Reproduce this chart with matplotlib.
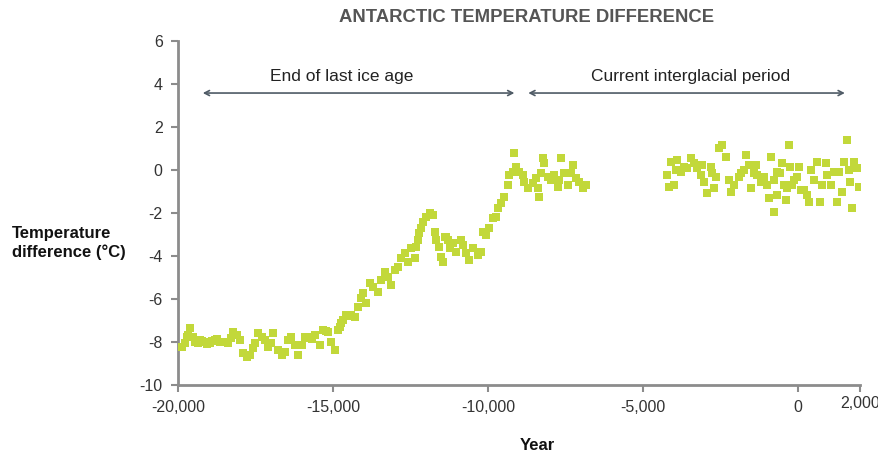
import matplotlib
matplotlib.use("Agg")
import matplotlib.pyplot as plt

plt.rcParams['font.family'] = ['Liberation Sans', 'DejaVu Sans']
plt.rcParams['axes.unicode_minus'] = False

# --- data (year, temperature difference in °C) ---
years = [
    -19880, -19775, -19720, -19670, -19615, -19510, -19450, -19370, -19290, -19210, -19130, -19050,
    -18970, -18890, -18810, -18730, -18650, -18570, -18490, -18380, -18300, -18220, -18110, -18000,
    -17900, -17790, -17680, -17575, -17520, -17415, -17300, -17200, -17090, -16990, -16930, -16770,
    -16660, -16555, -16450, -16340, -16230, -16125, -16015, -15910, -15830, -15750, -15670, -15590,
    -15430, -15320, -15240, -15160, -15050, -14945, -14840, -14785, -14730, -14680, -14570, -14480,
    -14410, -14300, -14195, -14085, -14030, -13925, -13820, -13710, -13550, -13440, -13335, -13230,
    -13120, -13015, -12905, -12800, -12690, -12585, -12475, -12370, -12315, -12260, -12210, -12155,
    -12100, -11990, -11885, -11780, -11725, -11670, -11565, -11510, -11460, -11400, -11350, -11295,
    -11240, -11135, -11025, -10865, -10810, -10705, -10600, -10490, -10330, -10220, -10170, -10060,
    -9955, -9845, -9740, -9685, -9575, -9470, -9365, -9310, -9205, -9150, -9095, -8990,
    -8880, -8825, -8720, -8560, -8450, -8395, -8340, -8285, -8230, -8180, -8070, -7965,
    -7860, -7750, -7700, -7645, -7540, -7430, -7320, -7270, -7160, -7055, -6945, -6840,
    -4210, -4150, -4100, -3995, -3940, -3890, -3780, -3675, -3565, -3460, -3350, -3245,
    -3140, -3085, -3030, -2925, -2815, -2765, -2710, -2655, -2550, -2440, -2335, -2225,
    -2175, -2065, -1905, -1850, -1745, -1690, -1585, -1530, -1420, -1365, -1315, -1205,
    -1100, -990, -940, -865, -780, -780, -670, -670, -565, -510, -455, -400,
    -350, -295, -260, -185, -130, -25, 30, 85, 190, 300, 350, 405,
    510, 620, 725, 780, 890, 940, 1050, 1155, 1260, 1315, 1420, 1475,
    1585, 1640, 1690, 1745, 1800, 1905, 1960,
]
temps = [
    -8.22, -8.06, -7.75, -7.67, -7.36, -7.75, -7.98, -8.05, -7.90, -7.95, -7.98, -8.08,
    -8.06, -7.95, -7.90, -7.85, -7.98, -8.00, -7.98, -8.06, -7.80, -7.52, -7.67, -7.90,
    -8.53, -8.68, -8.60, -8.30, -8.06, -7.60, -7.75, -7.90, -8.22, -8.05, -7.60, -8.37,
    -8.60, -8.45, -7.90, -7.75, -8.14, -8.60, -8.14, -7.75, -7.80, -7.75, -7.85, -7.67,
    -8.14, -7.44, -7.50, -7.52, -7.98, -8.37, -7.44, -7.29, -7.13, -6.98, -6.74, -6.80,
    -6.74, -6.82, -6.36, -5.97, -5.74, -6.20, -5.27, -5.43, -5.66, -5.12, -4.73, -4.96,
    -5.35, -4.65, -4.50, -4.11, -3.88, -4.26, -3.64, -4.11, -3.57, -3.26, -2.95, -2.71,
    -2.40, -2.17, -2.02, -2.09, -2.87, -3.26, -3.57, -4.03, -4.26, -3.10, -3.10, -3.26,
    -3.64, -3.41, -3.80, -3.26, -3.49, -3.88, -4.19, -3.64, -3.95, -3.80, -2.87, -3.02,
    -2.71, -2.25, -2.17, -1.78, -1.55, -1.24, -0.70, -0.23, -0.08, 0.80, 0.15, -0.08,
    -0.23, -0.54, -0.85, -0.62, -0.39, -0.85, -1.24, -0.16, 0.54, 0.31, -0.31, -0.47,
    -0.23, -0.78, -0.47, 0.54, -0.16, -0.70, -0.16, 0.23, -0.39, -0.54, -0.85, -0.70,
    -0.23, -0.80, 0.39, -0.70, 0.00, 0.47, -0.08, 0.16, 0.08, 0.54, 0.31, 0.08,
    -0.23, 0.23, -0.54, -1.08, 0.16, -0.16, -0.85, -0.31, 1.01, 1.16, 0.62, -0.47,
    -1.01, -0.70, -0.31, -0.16, 0.00, 0.70, 0.23, -0.85, -0.16, 0.23, -0.23, -0.54,
    -0.31, -0.70, -1.32, 0.62, -0.47, -1.95, -1.16, -0.08, -0.16, 0.31, -0.70, -1.40,
    -0.85, 1.16, 0.16, -0.70, -0.47, -0.31, 0.16, -0.93, -0.93, -1.16, -1.47, 0.00,
    -0.47, 0.39, -1.47, -0.70, 0.31, -0.23, -0.70, -0.08, -1.47, -0.08, -1.01, 0.39,
    1.40, 0.00, -0.54, -1.78, 0.39, 0.08, -0.78,
]

x_ticks = [-20000, -15000, -10000, -5000, 0, 2000]
x_tick_labels = ['-20,000', '-15,000', '-10,000', '-5,000', '0', '2,000']
y_ticks = [-10, -8, -6, -4, -2, 0, 2, 4, 6]

periods = ['End of last ice age', 'Current interglacial period']
period_starts = [-19200, -8700]
period_ends = [-9150, 1510]
label_centers = [-14720, -3450]

# --- figure ---
fig = plt.figure(figsize=(8.79, 4.53), dpi=100)
ax = fig.add_axes([178/879, 1-385/453, (860-178)/879, (385-41)/453])

point_color = '#c2d83a'
ax.scatter(years, temps, marker='s', s=30, color=point_color, linewidths=0, zorder=3)

ax.set_xlim(-20000, 2000)
ax.set_ylim(-10, 6)
ax.set_xticks(x_ticks)
ax.set_xticklabels(x_tick_labels)
ax.set_yticks(y_ticks)

spine_color = '#8c8c8c'
for side in ['top', 'right']:
    ax.spines[side].set_visible(False)
for side in ['left', 'bottom']:
    ax.spines[side].set_color(spine_color)
    ax.spines[side].set_linewidth(2)
ax.tick_params(axis='both', colors=spine_color, width=1.5, length=5,
               labelcolor='#333333', labelsize=11.5)
ax.tick_params(axis='x', pad=6)
ax.tick_params(axis='y', pad=6)

# raise the last x tick label a little, as in the reference
last = ax.get_xticklabels()[-1]
import matplotlib.transforms as mtransforms
last.set_transform(last.get_transform() + mtransforms.ScaledTranslation(0, 4/100, fig.dpi_scale_trans))

# period annotations
arrow_color = '#4f5b66'
for label, x0, x1, xc in zip(periods, period_starts, period_ends, label_centers):
    ax.annotate('', xy=(x0, 3.58), xytext=(x1, 3.58),
                arrowprops=dict(arrowstyle='<->,head_length=0.35,head_width=0.18',
                                color=arrow_color, lw=1.2, shrinkA=0, shrinkB=0))
    ax.text(xc, 4.0, label, ha='center', va='bottom',
            fontsize=12.5, color='#222222')

fig.text(527/879, 1-18/453, 'ANTARCTIC TEMPERATURE DIFFERENCE', ha='center', va='center',
         fontsize=13.3, fontweight='bold', color='#555555')
fig.text(12/879, 1-243/453, 'Temperature\ndifference (°C)', ha='left', va='center',
         fontsize=12, fontweight='bold', color='#111111', linespacing=1.3)
fig.text(537/879, 1-445/453, 'Year', ha='center', va='center',
         fontsize=12, fontweight='bold', color='#111111')

fig.savefig('out.png', dpi=100)
